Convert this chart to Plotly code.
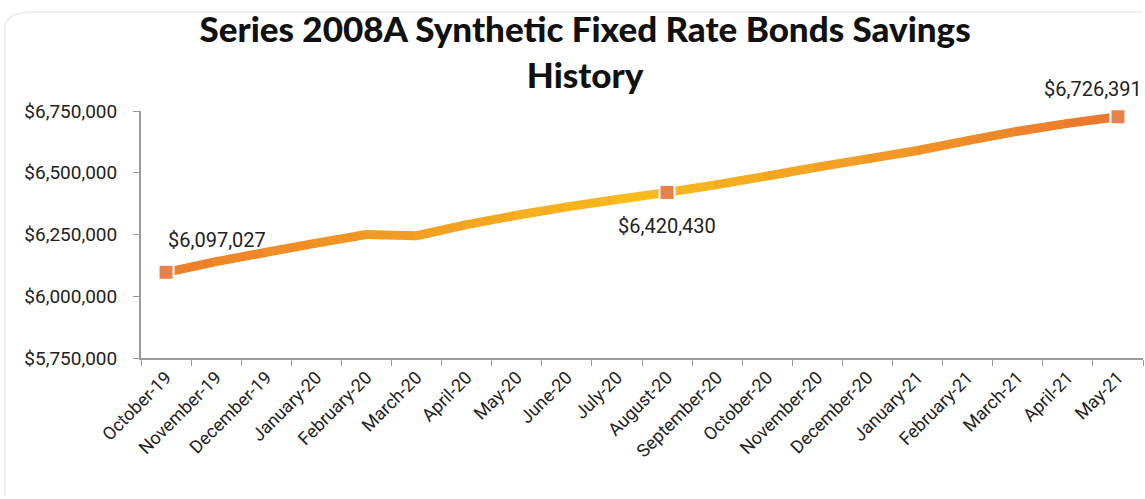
import plotly.graph_objects as go

months = ["October-19", "November-19", "December-19", "January-20", "February-20",
          "March-20", "April-20", "May-20", "June-20", "July-20", "August-20",
          "September-20", "October-20", "November-20", "December-20", "January-21",
          "February-21", "March-21", "April-21", "May-21"]
savings = [6097027, 6140000, 6178000, 6215000, 6250000,
           6245000, 6290000, 6328000, 6362000, 6392000, 6420430,
           6452000, 6487000, 6523000, 6556000, 6590000,
           6630000, 6668000, 6700000, 6726391]
labeled_idx = [0, 10, 19]
y_ticks = [5750000, 6000000, 6250000, 6500000, 6750000]

stops = [(0.0, (238, 128, 40)), (0.5, (247, 188, 28)), (1.0, (236, 122, 46))]


def grad(t):
    for (t0, c0), (t1, c1) in zip(stops[:-1], stops[1:]):
        if t0 <= t <= t1:
            f = (t - t0) / (t1 - t0)
            return "rgb(%d,%d,%d)" % tuple(round(a + (b - a) * f) for a, b in zip(c0, c1))
    return "rgb(%d,%d,%d)" % stops[-1][1]


fig = go.Figure()
n = len(months)
for i in range(n - 1):
    c = grad(i / (n - 2))
    fig.add_trace(go.Scatter(
        x=months[i:i + 2], y=savings[i:i + 2], mode="lines+markers",
        line=dict(color=c, width=9), marker=dict(color=c, size=8, symbol="circle"),
        showlegend=False, hoverinfo="skip"))

fig.add_trace(go.Scatter(
    x=[months[i] for i in labeled_idx], y=[savings[i] for i in labeled_idx],
    mode="markers", marker=dict(symbol="square", size=15, color="#E8814A",
                                line=dict(color="white", width=2)),
    showlegend=False, cliponaxis=False))

offsets = {0: (0, 32, "left"), 10: (0, -34, "center"), 19: (-76, 28, "left")}
for i in labeled_idx:
    xs, ys, xa = offsets[i]
    fig.add_annotation(x=months[i], y=savings[i], text="${:,}".format(savings[i]),
                       showarrow=False, xshift=xs, yshift=ys, xanchor=xa, yanchor="middle",
                       font=dict(family="Roboto", size=20, color="#222222"))

fig.update_layout(
    width=1145, height=499,
    margin=dict(l=141, r=2, t=111, b=141),
    paper_bgcolor="white", plot_bgcolor="white",
    title=dict(text="Series 2008A Synthetic Fixed Rate Bonds Savings<br>History",
               x=0.511, xanchor="center", y=0.915, yanchor="middle",
               font=dict(family="Lato", size=35, color="#111111", weight=900)),
    xaxis=dict(type="category", categoryorder="array", categoryarray=months,
               range=[-0.5, n - 0.5], showgrid=False, showline=True, linecolor="#9a9a9a",
               linewidth=2, ticks="outside", tickson="boundaries", ticklen=6,
               tickcolor="#9a9a9a", tickangle=-45,
               tickfont=dict(family="Roboto", size=18, color="#222222")),
    yaxis=dict(range=[5750000, 6750000], tickvals=y_ticks,
               ticktext=["${:,}".format(v) for v in y_ticks], showgrid=False,
               showline=True, linecolor="#9a9a9a", linewidth=2, ticks="outside",
               ticklen=6, tickcolor="#9a9a9a", zeroline=False, ticklabelstandoff=12,
               tickfont=dict(family="Roboto", size=19, color="#222222")),
    shapes=[dict(type="path", xref="paper", yref="paper",
                 path="M -0.136,-0.56 L -0.136,1.33 Q -0.136,1.40 -0.11,1.40 L 0.998,1.40",
                 line=dict(color="#ececec", width=1.5), layer="below")],
)

fig.write_html("out.html")
